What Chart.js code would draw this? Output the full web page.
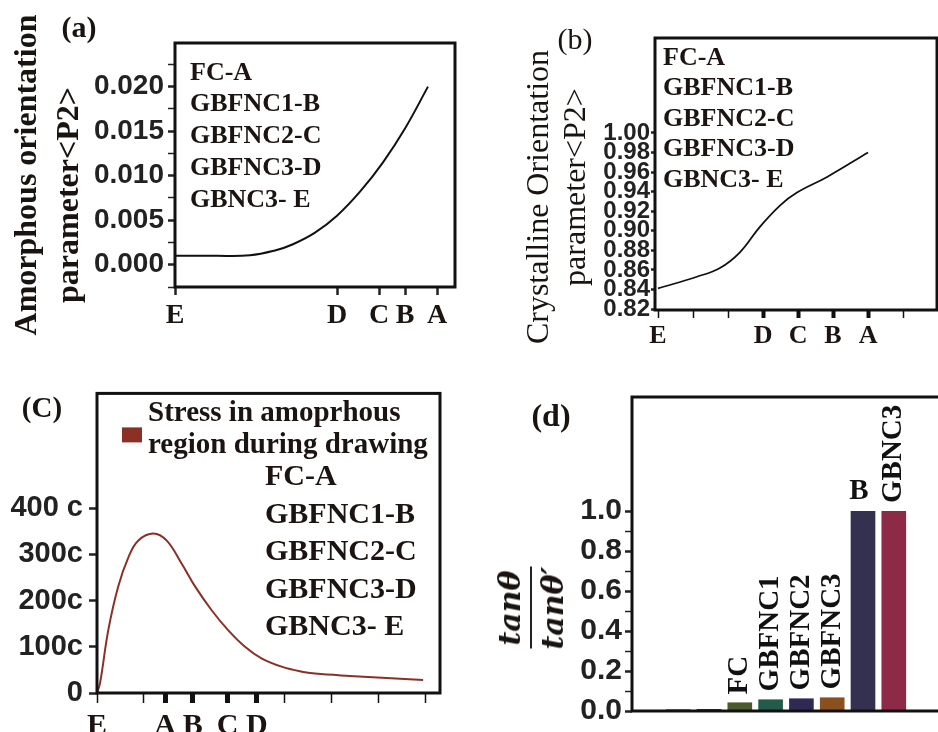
<!DOCTYPE html>
<html>
<head>
<meta charset="utf-8">
<script src="https://cdn.jsdelivr.net/npm/chart.js@4/dist/chart.umd.min.js"></script>
<style>
  html, body { margin: 0; padding: 0; background: #fff; overflow: hidden; }
  body { width: 938px; height: 732px; position: relative; }
  canvas { position: absolute; }
  .lbl { position: absolute; transform: translate(-50%, -50%); white-space: nowrap; color: #1a1410; line-height: 1; }
  .rot { transform: translate(-50%, -50%) rotate(-90deg); }
  .serif { font-family: "Liberation Serif", "Times New Roman", serif; }
  .frac { display: flex; flex-direction: column; align-items: center; font: italic bold 30px "DejaVu Serif", serif; }
  .frac .bar { width: 82px; border-top: 2px solid #222; margin: 3px 0; }
</style>
</head>
<body>
<canvas id="ca" width="470" height="340" style="left:0;top:0"></canvas>
<canvas id="cb" width="468" height="360" style="left:470px;top:0"></canvas>
<canvas id="cc" width="470" height="362" style="left:0;top:370px"></canvas>
<canvas id="cd" width="480" height="362" style="left:470px;top:370px"></canvas>

<div class="lbl serif" style="left:79px;top:27px;font-weight:bold;font-size:30px">(a)</div>
<div class="lbl rot serif" style="left:25px;top:175px;font-weight:bold;font-size:32px">Amorphous orientation</div>
<div class="lbl rot serif" style="left:67px;top:195px;font-weight:bold;font-size:32px">parameter&lt;P2&gt;</div>

<div class="lbl serif" style="left:575px;top:39px;font-size:30px">(b)</div>
<div class="lbl rot serif" style="left:537px;top:197px;font-size:32px">Crystalline Orientation</div>
<div class="lbl rot serif" style="left:574px;top:187px;font-size:32px">parameter&lt;P2&gt;</div>

<div class="lbl serif" style="left:42px;top:407px;font-weight:bold;font-size:29px">(C)</div>

<div class="lbl serif" style="left:551px;top:415px;font-weight:bold;font-size:32px">(d)</div>
<div class="lbl rot" style="left:531px;top:608px">
  <div class="frac"><span>tanθ</span><span class="bar"></span><span>tanθ′</span></div>
</div>

<script>
// (a) amorphous orientation parameter
const aTickPos = [0, 162, 204, 230, 262];
const aTickLabels = ['E', 'D', 'C', 'B', 'A'];
const aYTicks = [-0.0025, 0, 0.0025, 0.005, 0.0075, 0.01, 0.0125, 0.015, 0.0175, 0.02, 0.0225];
const aX = [0, 40, 75, 100, 118, 140, 162, 185, 208, 230, 253];
const aY = [0.001, 0.001, 0.00106, 0.0016, 0.0023, 0.0036, 0.0055, 0.0082, 0.0115, 0.0153, 0.020];

// (b) crystalline orientation parameter
const bTickLabels = ['E', '', '', 'D', 'C', 'B', 'A', ''];
const bYTicks = [0.82, 0.84, 0.86, 0.88, 0.90, 0.92, 0.94, 0.96, 0.98, 1.00];
const bX = [0, 1.11, 1.77, 2.34, 2.91, 3.49, 3.97, 4.83, 6.0];
const bY = [0.841, 0.853, 0.862, 0.878, 0.904, 0.926, 0.939, 0.955, 0.980];

// (c) stress in amorphous region
const cTickPos = [0, 1, 1.45, 2.04, 2.78, 3.40, 4, 5, 6, 7];
const cTickLabels = ['E', '', 'A', 'B', 'C', 'D', '', '', '', ''];
const cYTicks = [0, 100, 200, 300, 400];
const cYLabels = ['0', '100c', '200c', '300c', '400 c'];
const cX = [0, 0.064, 0.24, 0.45, 0.67, 0.88, 1.2, 1.48, 1.8, 2.09, 2.44, 2.79, 3.15, 3.5, 3.93, 4.36, 4.64, 5.38, 6.94];
const cY = [0, 21, 136, 230, 294, 330, 345, 330, 280, 230, 179, 136, 100, 75, 57, 46, 42, 37, 28];

// (d) tan ratio bars
const dCats = ['', '', '', 'FC', 'GBFNC1', 'GBFNC2', 'GBFNC3', 'B', 'GBNC3', ''];
const dVals = [0, 0.008, 0.01, 0.043, 0.058, 0.063, 0.068, 1.0, 1.0, null];
const dYTicks = [0, 0.1, 0.2, 0.3, 0.4, 0.5, 0.6, 0.7, 0.8, 0.9, 1.0];

const legendLines = ['FC-A', 'GBFNC1-B', 'GBFNC2-C', 'GBFNC3-D', 'GBNC3- E'];
const barColors = ['#5a2020', '#5a2020', '#5a2020', '#4a5a2e', '#245a4a', '#2f2a55', '#8a5020', '#34304f', '#8c2a48', '#888'];

const SERIF = '"Liberation Serif", "Times New Roman", serif';
const SANS = '"Liberation Sans", Arial, sans-serif';

// frame round the plot area
Chart.register({
  id: 'frame',
  afterDraw(chart) {
    const { ctx, chartArea: a } = chart;
    ctx.save();
    ctx.strokeStyle = '#111';
    ctx.lineWidth = 3;
    ctx.strokeRect(a.left, a.top, a.right - a.left, a.bottom - a.top);
    ctx.restore();
  }
});

// text blocks inside the plot
Chart.register({
  id: 'notes',
  afterDraw(chart, args, opts) {
    if (!opts.groups) return;
    const { ctx, chartArea: a } = chart;
    ctx.save();
    ctx.textBaseline = 'middle';
    opts.groups.forEach(g => {
      ctx.font = g.font;
      ctx.fillStyle = '#1c1410';
      g.lines.forEach((t, i) => ctx.fillText(t, a.left + g.x, a.top + g.y + i * g.gap));
      if (g.swatch) {
        ctx.fillStyle = chart.data.datasets[0].borderColor;
        ctx.fillRect(a.left + g.swatch[0], a.top + g.swatch[1], g.swatch[2], g.swatch[3]);
      }
    });
    ctx.restore();
  }
});

function gridOpts(len) {
  return {
    drawOnChartArea: false,
    tickLength: len,
    tickColor: '#222',
    tickWidth: c => (c.tick && c.tick.label !== '' ? 2.5 : 1.5)
  };
}

function linePoints(xs, ys) {
  return xs.map((x, i) => ({ x, y: ys[i] }));
}

const base = {
  responsive: false,
  animation: false,
  events: []
};

// (a)
new Chart(document.getElementById('ca'), {
  type: 'line',
  data: { datasets: [{ data: linePoints(aX, aY), borderColor: '#111', borderWidth: 2, pointRadius: 0, tension: 0.4 }] },
  options: {
    ...base,
    layout: { padding: { top: 43, right: 15, left: 0, bottom: 0 } },
    plugins: {
      legend: { display: false }, tooltip: { enabled: false },
      notes: { groups: [{ lines: legendLines, x: 15, y: 30, gap: 31.7, font: 'bold 26px ' + SERIF }] }
    },
    scales: {
      x: {
        type: 'linear', min: 0, max: 280,
        border: { display: false }, grid: gridOpts(8),
        afterBuildTicks: s => { s.ticks = aTickPos.map(v => ({ value: v })); },
        afterFit: s => { s.height = 53; },
        ticks: { autoSkip: false, maxRotation: 0, padding: 4, color: '#1c1410', font: { family: SERIF, weight: 'bold', size: 28 },
          callback: v => aTickLabels[aTickPos.indexOf(v)] }
      },
      y: {
        min: -0.0025, max: 0.0249,
        border: { display: false }, grid: gridOpts(7),
        afterBuildTicks: s => { s.ticks = aYTicks.map(v => ({ value: v })); },
        afterFit: s => { s.width = 175; },
        ticks: { autoSkip: false, padding: 4, color: '#222', font: { family: SANS, weight: 'bold', size: 28 },
          callback: v => (Math.abs(v * 200 - Math.round(v * 200)) < 1e-6 ? v.toFixed(3) : '') }
      }
    }
  }
});

// (b)
new Chart(document.getElementById('cb'), {
  type: 'line',
  data: { datasets: [{ data: linePoints(bX, bY), borderColor: '#111', borderWidth: 1.8, pointRadius: 0, tension: 0.4 }] },
  options: {
    ...base,
    layout: { padding: { top: 38, right: 1, left: 0, bottom: 0 } },
    plugins: {
      legend: { display: false }, tooltip: { enabled: false },
      notes: { groups: [{ lines: legendLines, x: 8, y: 20, gap: 30.5, font: 'bold 26px ' + SERIF }] }
    },
    scales: {
      x: {
        type: 'linear', min: -0.086, max: 7.97,
        border: { display: false },
        grid: { drawOnChartArea: false, tickLength: 8, tickColor: '#111',
          tickWidth: c => (c.tick && c.tick.label !== '' && c.tick.label !== 'E' ? 4 : 1.5) },
        afterBuildTicks: s => { s.ticks = bTickLabels.map((l, i) => ({ value: i })); },
        afterFit: s => { s.height = 50; },
        ticks: { autoSkip: false, maxRotation: 0, padding: 3, color: '#1c1410', font: { family: SERIF, weight: 'bold', size: 26 },
          callback: v => bTickLabels[v] }
      },
      y: {
        min: 0.819, max: 1.097,
        border: { display: false }, grid: gridOpts(4),
        afterBuildTicks: s => { s.ticks = bYTicks.map(v => ({ value: v })); },
        afterFit: s => { s.width = 185; },
        ticks: { autoSkip: false, padding: 1, color: '#222', font: { family: SANS, weight: 'bold', size: 24 },
          callback: v => v.toFixed(2) }
      }
    }
  }
});

// (c)
new Chart(document.getElementById('cc'), {
  type: 'line',
  data: { datasets: [{ label: 'Stress in amoprhous region during drawing', data: linePoints(cX, cY), borderColor: '#8b3024', borderWidth: 2, pointRadius: 0, tension: 0.4 }] },
  options: {
    ...base,
    layout: { padding: { top: 23, right: 30, left: 0, bottom: 0 } },
    plugins: {
      legend: { display: false }, tooltip: { enabled: false },
      notes: { groups: [
        { lines: ['Stress in amoprhous', 'region during drawing'], x: 51, y: 20, gap: 32, font: 'bold 29px ' + SERIF, swatch: [25, 34, 20, 15] },
        { lines: legendLines, x: 168, y: 84, gap: 37.5, font: 'bold 30px ' + SERIF }
      ] }
    },
    scales: {
      x: {
        type: 'linear', min: 0, max: 7.3,
        border: { display: false },
        grid: { drawOnChartArea: false, tickLength: 10, tickColor: '#111',
          tickWidth: c => (c.tick && c.tick.label !== '' && c.tick.label !== 'E' ? 5 : 1.5) },
        afterBuildTicks: s => { s.ticks = cTickPos.map(v => ({ value: v })); },
        afterFit: s => { s.height = 39; },
        ticks: { autoSkip: false, maxRotation: 0, padding: 5, color: '#1c1410', font: { family: SERIF, weight: 'bold', size: 30 },
          callback: v => cTickLabels[cTickPos.indexOf(v)] }
      },
      y: {
        min: 0, max: 648,
        border: { display: false }, grid: gridOpts(8),
        afterBuildTicks: s => { s.ticks = cYTicks.map(v => ({ value: v })); },
        afterFit: s => { s.width = 97; },
        ticks: { autoSkip: false, padding: 6, color: '#222', font: { family: SANS, weight: 'bold', size: 29 },
          callback: v => cYLabels[cYTicks.indexOf(v)] }
      }
    }
  }
});

// (d)
new Chart(document.getElementById('cd'), {
  type: 'bar',
  data: { labels: dCats, datasets: [{ data: dVals, backgroundColor: barColors, barPercentage: 0.8, categoryPercentage: 1 }] },
  options: {
    ...base,
    layout: { padding: { top: 27, right: 10, left: 0, bottom: 10 } },
    plugins: { legend: { display: false }, tooltip: { enabled: false } },
    scales: {
      x: { display: false },
      y: {
        min: 0, max: 1.57,
        border: { display: false }, grid: gridOpts(7),
        afterBuildTicks: s => { s.ticks = dYTicks.map(v => ({ value: v })); },
        afterFit: s => { s.width = 162; },
        ticks: { autoSkip: false, padding: 3, color: '#222', font: { family: SANS, weight: 'bold', size: 30 },
          callback: v => (Math.round(v * 10) % 2 === 0 ? v.toFixed(1) : '') }
      }
    }
  },
  plugins: [{
    id: 'barNames',
    afterDatasetsDraw(chart) {
      const { ctx } = chart;
      const meta = chart.getDatasetMeta(0);
      ctx.save();
      ctx.fillStyle = '#111';
      ctx.font = 'bold 29px ' + SERIF;
      chart.data.labels.forEach((name, i) => {
        if (!name) return;
        const el = meta.data[i];
        if (name.length > 1) {
          ctx.save();
          ctx.translate(el.x, el.y - 8);
          ctx.rotate(-Math.PI / 2);
          ctx.textAlign = 'left';
          ctx.textBaseline = 'middle';
          ctx.fillText(name, 0, 0);
          ctx.restore();
        } else {
          ctx.textAlign = 'center';
          ctx.textBaseline = 'bottom';
          ctx.fillText(name, el.x - 4, el.y - 5);
        }
      });
      ctx.restore();
    }
  }]
});
</script>
</body>
</html>
